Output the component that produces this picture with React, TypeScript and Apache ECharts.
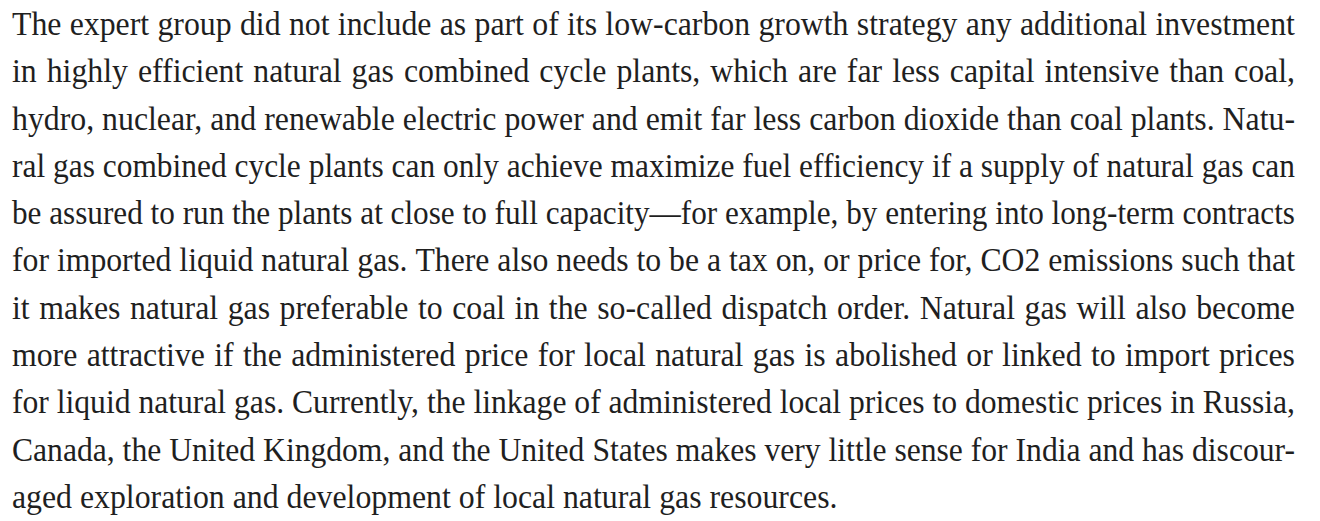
import React, { useEffect, useRef } from "react";
import * as echarts from "echarts";

// Paragraph lines exactly as broken in the reference
const paragraphLines: string[] = [
  "The expert group did not include as part of its low-carbon growth strategy any additional investment",
  "in highly efficient natural gas combined cycle plants, which are far less capital intensive than coal,",
  "hydro, nuclear, and renewable electric power and emit far less carbon dioxide than coal plants. Natu-",
  "ral gas combined cycle plants can only achieve maximize fuel efficiency if a supply of natural gas can",
  "be assured to run the plants at close to full capacity\u2014for example, by entering into long-term contracts",
  "for imported liquid natural gas. There also needs to be a tax on, or price for, CO2 emissions such that",
  "it makes natural gas preferable to coal in the so-called dispatch order. Natural gas will also become",
  "more attractive if the administered price for local natural gas is abolished or linked to import prices",
  "for liquid natural gas. Currently, the linkage of administered local prices to domestic prices in Russia,",
  "Canada, the United Kingdom, and the United States makes very little sense for India and has discour-",
  "aged exploration and development of local natural gas resources.",
];

const FONT_FAMILY = '"Liberation Serif", serif';
const TEXT_COLOR = "#1f1f1f";
const LEFT = 12;
const RIGHT = 1295;
const FIRST_BASELINE = 35;
const LINE_STEP = 47.3;
const FILL_RATIO = 0.997;
const SCALE_Y = 1.06;

function buildElements(): any[] {
  const canvas = document.createElement("canvas");
  const ctx = canvas.getContext("2d") as CanvasRenderingContext2D;
  const width = RIGHT - LEFT;
  // find font size so that the body lines on average nearly fill the measure
  const baseSize = 20;
  ctx.font = `${baseSize}px ${FONT_FAMILY}`;
  const body = paragraphLines.slice(0, -1);
  const avg = body.reduce((a, l) => a + ctx.measureText(l).width, 0) / body.length;
  const fontSize = Math.round(((baseSize * width * FILL_RATIO) / avg) * 10) / 10;
  const font = `${fontSize}px ${FONT_FAMILY}`;
  ctx.font = font;
  const spaceW = ctx.measureText(" ").width;
  const els: any[] = [];
  paragraphLines.forEach((line, i) => {
    const words = line.split(" ");
    const ws = words.map((w) => ctx.measureText(w).width);
    const sum = ws.reduce((a, b) => a + b, 0);
    const natural = sum + spaceW * (words.length - 1);
    const isLast = i === paragraphLines.length - 1;
    let scale = 1;
    let gap = spaceW;
    if (!isLast) {
      if (natural > width) {
        scale = width / natural;
        gap = spaceW * scale;
      } else if (words.length > 1) {
        gap = (width - sum) / (words.length - 1);
      }
    }
    const baseline = FIRST_BASELINE + i * LINE_STEP;
    let x = LEFT;
    words.forEach((w, j) => {
      els.push({
        type: "text",
        x,
        y: baseline,
        scaleX: scale,
        scaleY: SCALE_Y,
        silent: true,
        style: {
          text: w,
          fill: TEXT_COLOR,
          font,
          fontSize,
          fontFamily: FONT_FAMILY,
          align: "left",
          verticalAlign: "middle",
          // place glyph baseline at local y=0 so vertical scaling keeps baseline fixed
          y: -0.3375 * fontSize,
        },
      });
      x += ws[j] * scale + gap;
    });
  });
  return els;
}

export default function App() {
  const ref = useRef<HTMLDivElement>(null);
  useEffect(() => {
    if (!ref.current) return;
    const chart = echarts.init(ref.current, undefined, { renderer: "svg" });
    chart.setOption({
      animation: false,
      backgroundColor: "#ffffff",
      graphic: buildElements(),
    });
    return () => chart.dispose();
  }, []);
  return (
    <div
      ref={ref}
      style={{ position: "fixed", left: 0, top: 0, width: 1320, height: 521, background: "#fff" }}
    />
  );
}
